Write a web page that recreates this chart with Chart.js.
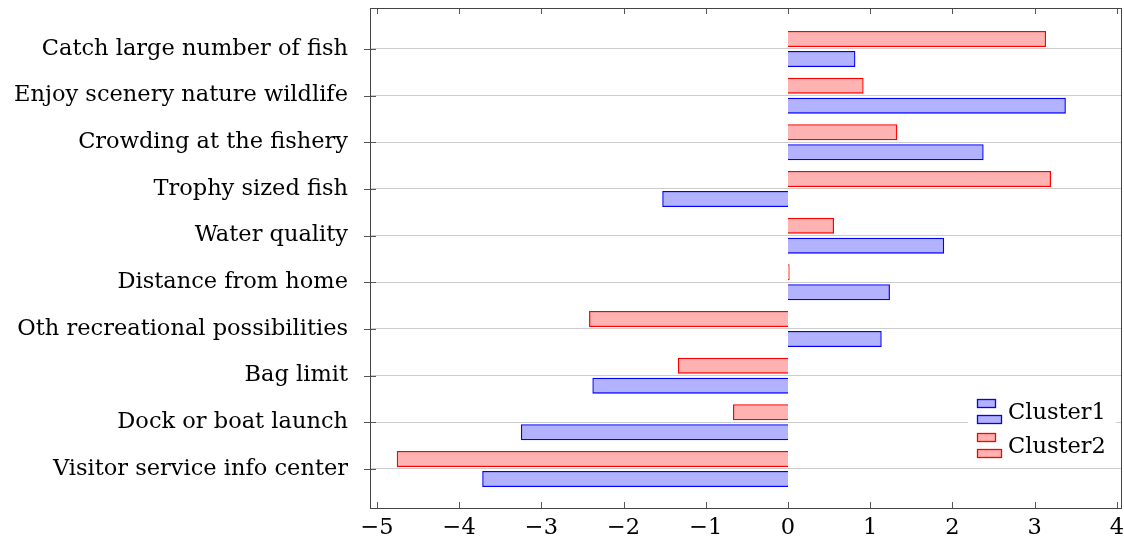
<!DOCTYPE html>
<html>
<head>
<meta charset="utf-8">
<script src="https://cdn.jsdelivr.net/npm/chart.js@4"></script>
<style>
  html, body { margin: 0; padding: 0; background: #fff; }
  #wrap { width: 1124px; height: 544px; }
</style>
</head>
<body>
<div id="wrap"><canvas id="chart" width="1124" height="544"></canvas></div>
<script>
const categories = [
    'Catch large number of fish',
    'Enjoy scenery nature wildlife',
    'Crowding at the fishery',
    'Trophy sized fish',
    'Water quality',
    'Distance from home',
    'Oth recreational possibilities',
    'Bag limit',
    'Dock or boat launch',
    'Visitor service info center'
];
const cluster1 = [0.82, 3.38, 2.38, -1.53, 1.90, 1.24, 1.14, -2.38, -3.25, -3.72];
const cluster2 = [3.14, 0.92, 1.33, 3.20, 0.56, 0.02, -2.42, -1.34, -0.67, -4.76];
const xTicks = [-5, -4, -3, -2, -1, 0, 1, 2, 3, 4];

const FONT = "'DejaVu Serif', serif";
const FSIZE = 22.5;
const blue = { fill: 'rgba(0,0,255,0.3)', line: '#0000ff' };
const red = { fill: 'rgba(255,0,0,0.3)', line: '#ff0000' };

// frame, inward tick marks and the legend box (pgfplots look)
const framePlugin = {
    id: 'frame',
    afterDraw(chart) {
        const ctx = chart.ctx;
        const a = chart.chartArea;
        const xs = chart.scales.x, ys = chart.scales.y;
        ctx.save();
        ctx.strokeStyle = '#555';
        ctx.lineWidth = 1;
        xTicks.forEach(t => {
            const px = Math.round(xs.getPixelForValue(t)) + 0.5;
            ctx.beginPath();
            ctx.moveTo(px, a.bottom); ctx.lineTo(px, a.bottom - 6);
            ctx.moveTo(px, a.top); ctx.lineTo(px, a.top + 6);
            ctx.stroke();
        });
        categories.forEach((c, i) => {
            const py = Math.round(ys.getPixelForValue(i)) + 0.5;
            ctx.beginPath();
            ctx.moveTo(a.left - 6, py); ctx.lineTo(a.left + 6, py);
            ctx.stroke();
        });
        ctx.strokeStyle = '#444';
        ctx.strokeRect(Math.round(a.left) + 0.5, Math.round(a.top) + 0.5,
            Math.round(a.right - a.left) - 1, Math.round(a.bottom - a.top));

        // legend
        const lx = 968, ly = 391, lw = 148, lh = 76;
        ctx.fillStyle = '#fff';
        ctx.fillRect(lx, ly, lw, lh);
        const items = [['Cluster1', blue], ['Cluster2', red]];
        ctx.lineWidth = 1.3;
        items.forEach(([name, col], k) => {
            const y0 = ly + 8 + k * 34;
            ctx.fillStyle = col.fill;
            ctx.strokeStyle = col.line;
            ctx.fillRect(977.5, y0 + 0.5, 18, 8);
            ctx.strokeRect(977.5, y0 + 0.5, 18, 8);
            ctx.fillRect(977.5, y0 + 16.5, 24, 8);
            ctx.strokeRect(977.5, y0 + 16.5, 24, 8);
            ctx.fillStyle = '#000';
            ctx.font = FSIZE + 'px ' + FONT;
            ctx.textBaseline = 'middle';
            ctx.fillText(name, 1008, y0 + 14);
        });
        ctx.restore();
    }
};

new Chart(document.getElementById('chart').getContext('2d'), {
    type: 'bar',
    data: {
        datasets: [
            {
                label: 'Cluster2',
                data: cluster2.map((v, i) => ({ x: v, y: i })),
                backgroundColor: red.fill,
                borderColor: red.line,
                borderWidth: 1.3
            },
            {
                label: 'Cluster1',
                data: cluster1.map((v, i) => ({ x: v, y: i })),
                backgroundColor: blue.fill,
                borderColor: blue.line,
                borderWidth: 1.3
            }
        ]
    },
    plugins: [framePlugin],
    options: {
        indexAxis: 'y',
        responsive: false,
        animation: false,
        categoryPercentage: 0.857,
        barPercentage: 0.8,
        layout: { padding: { top: 8, right: 2, left: 0, bottom: 0 } },
        plugins: {
            legend: { display: false },
            tooltip: { enabled: false }
        },
        scales: {
            x: {
                type: 'linear',
                min: -5.085,
                max: 4.063,
                afterFit: s => { s.height = 36; s.paddingLeft = 0; s.paddingRight = 0; },
                afterBuildTicks: s => { s.ticks = xTicks.map(v => ({ value: v })); },
                grid: { display: false, drawTicks: false },
                border: { display: false },
                ticks: {
                    padding: 7,
                    color: '#000',
                    font: { family: FONT, size: FSIZE },
                    callback: v => v < 0 ? '\u2212' + Math.abs(v) : String(v)
                }
            },
            y: {
                type: 'linear',
                reverse: true,
                offset: false,
                min: -0.878,
                max: 9.836,
                afterFit: s => { s.width = 370; s.paddingTop = 0; s.paddingBottom = 0; },
                afterBuildTicks: s => { s.ticks = categories.map((c, i) => ({ value: i })); },
                grid: { color: '#cccccc', lineWidth: 1, drawTicks: false, offset: false },
                border: { display: false },
                ticks: {
                    padding: 22,
                    color: '#000',
                    font: { family: FONT, size: FSIZE },
                    callback: v => categories[v]
                }
            }
        }
    }
});
</script>
</body>
</html>
